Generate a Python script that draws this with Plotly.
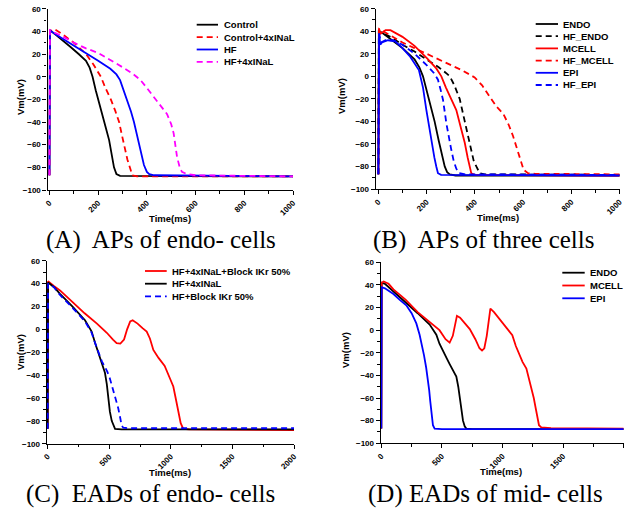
import plotly.graph_objects as go

# ---------------- data ----------------
# Panel A: APs of endo- cells
a_names = ["Control", "Control+4xINaL", "HF", "HF+4xINaL"]
a_ctrl_t = [0, 2, 20, 50, 88, 120, 150, 165, 177, 190, 211, 230, 245, 258, 265, 275, 290, 1000]
a_ctrl_v = [-87, 41, 38, 33, 26, 20, 14, 8, 0, -12, -30, -44, -56, -70, -80, -86, -87.5, -88]
a_ctrl4_t = [0, 3, 20, 50, 100, 150, 180, 200, 211, 230, 252, 270, 286, 298, 306, 320, 333, 340, 360, 1000]
a_ctrl4_v = [-87, 40, 42, 38, 30, 20, 11, 4, 0, -10, -20, -30, -40, -52, -60, -73, -82, -87, -88, -88]
a_hf_t = [0, 2, 20, 50, 100, 150, 200, 250, 275, 290, 305, 320, 335, 347, 357, 367, 378, 388, 400, 410, 430, 1000]
a_hf_v = [-87, 41, 38, 34, 28, 21, 14, 7, 2, -3, -12, -21, -31, -40, -50, -60, -70, -78, -84, -86, -87, -88]
a_hf4_t = [0, 2, 20, 50, 100, 150, 200, 250, 299, 340, 374, 400, 430, 460, 483, 500, 510, 524, 535, 544, 565, 600, 1000]
a_hf4_v = [-87, 41, 39, 36, 30, 25, 21, 15, 8.5, 3, -3, -10, -18, -27, -33, -42, -50, -71, -80, -84, -86, -87, -88]

# Panel B: APs of three cells
b_names = ["ENDO", "HF_ENDO", "MCELL", "HF_MCELL", "EPI", "HF_EPI"]
b_endo_t = [0, 2, 20, 50, 100, 150, 170, 185, 200, 215, 233, 250, 265, 275, 285, 296, 320, 1000]
b_endo_v = [-87, 40, 38, 33, 25, 15, 8, 0, -12, -24, -40, -57, -72, -80, -85, -87, -88, -88]
b_hfendo_t = [0, 2, 20, 50, 100, 150, 200, 250, 280, 296, 315, 337, 358, 378, 395, 406, 420, 440, 1000]
b_hfendo_v = [-87, 40, 38, 35, 28, 22, 15, 8, 3, 0, -8, -20, -40, -60, -75, -80, -86, -87, -87.5]
b_mcell_t = [0, 3, 10, 30, 50, 100, 150, 202, 240, 261, 280, 300, 323, 340, 358, 370, 378, 385, 400, 1000]
b_mcell_v = [-87, 42, 38, 41, 41, 35, 27, 16, 7, 0, -10, -20, -30, -44, -59, -72, -80, -86, -87.5, -88]
b_hfmcell_t = [0, 3, 20, 50, 100, 150, 200, 254, 300, 350, 399, 430, 461, 490, 517, 540, 558, 572, 586, 595, 602, 620, 650, 1000]
b_hfmcell_v = [-87, 42, 40, 36, 30, 25, 20, 14.5, 10, 5, -1, -8, -18, -27, -33, -43, -53, -62, -71, -78, -83, -86, -86.5, -87]
b_epi_t = [0, 3, 8, 15, 40, 70, 100, 130, 168, 185, 199, 210, 220, 232, 240, 247, 260, 1000]
b_epi_v = [-87, 38, 28, 30, 32, 31, 25, 18, 5.6, -10, -30, -45, -59, -72, -80, -86, -87.5, -88]
b_hfepi_t = [0, 3, 10, 30, 60, 100, 150, 200, 230, 247, 258, 268, 282, 292, 302, 312, 323, 335, 360, 1000]
b_hfepi_v = [-87, 38, 30, 32, 32, 28, 20, 10, 3, -3, -12, -21, -42, -55, -65, -75, -82, -86, -87, -87.5]

# Panel C: EADs of endo- cells
c_names = ["HF+4xINaL+Block IKr 50%", "HF+4xINaL", "HF+Block IKr 50%"]
c_red_t = [0, 3, 50, 100, 200, 300, 400, 480, 530, 560, 590, 620, 645, 670, 690, 730, 770, 804, 830, 858, 900, 950, 993, 1020, 1039, 1060, 1080, 1101, 1150, 2000]
c_red_v = [-87, 42, 38, 34, 24, 14, 5, -3, -9, -12, -12.5, -9, 0, 7, 8, 5, 1, -2, -8, -18, -25, -32, -43, -50, -60, -72, -82, -87, -87.5, -88]
c_blk_t = [0, 3, 50, 100, 200, 303, 330, 357, 385, 411, 440, 465, 480, 492, 505, 520, 535, 547, 600, 2000]
c_blk_v = [-87, 41, 37, 31, 20, 8, 3, -2, -12, -20, -30, -38, -48, -60, -72, -80, -85, -87, -87.5, -87.5]
c_blu_t = [0, 3, 50, 100, 200, 303, 330, 357, 385, 411, 440, 465, 484, 505, 530, 550, 573, 590, 600, 614, 650, 2000]
c_blu_v = [-87, 40, 37, 30, 19, 7, 2, -3, -12, -20, -28, -33, -37, -43, -52, -60, -69, -78, -84, -86, -86.5, -86.5]

# Panel D: EADs of mid- cells
d_names = ["ENDO", "MCELL", "EPI"]
d_endo_t = [0, 3, 30, 99, 200, 300, 399, 430, 454, 480, 509, 540, 564, 590, 619, 635, 646, 660, 674, 688, 701, 750, 2000]
d_endo_v = [-87, 42, 41, 34.5, 25, 15, 5, 0, -4, -12, -19, -25, -30, -35, -41, -50, -60, -72, -80, -85, -87, -87.5, -87.5]
d_mcell_t = [0, 3, 19, 60, 100, 200, 300, 400, 480, 530, 564, 590, 610, 624, 650, 690, 730, 776, 810, 831, 850, 870, 885, 900, 930, 960, 996, 1040, 1081, 1110, 1133, 1165, 1197, 1220, 1243, 1258, 1274, 1290, 1301, 1320, 1400, 2000]
d_mcell_v = [-87, 42, 43, 41, 36, 27, 16, 7, 0, -8, -11, -5, 6, 12.7, 11, 6, 1, -8, -16, -18, -16, -5, 8, 19, 16, 12, 7.4, 2, -4.4, -14, -20, -28, -34, -44, -52, -60, -69, -78, -84, -86, -86.5, -87]
d_epi_t = [0, 3, 30, 60, 100, 150, 206, 250, 289, 316, 335, 352, 370, 385, 395, 404, 415, 426, 440, 500, 2000]
d_epi_v = [-87, 38, 37, 35, 32, 27, 22, 15, 6, -4, -13, -22, -33, -43, -53, -63, -75, -84, -87, -87.5, -87.5]

y_ticks = [-100, -80, -60, -40, -20, 0, 20, 40, 60]
captions = ["(A)  APs of endo- cells", "(B)  APs of three cells",
            "(C)  EADs of endo- cells", "(D) EADs of mid- cells"]

# ---------------- styling / layout ----------------
W, H = 626, 510
def fx(px): return px / W
def fy(py): return 1 - py / H

BLACK, RED, BLUE, MAG = "#000000", "#ff0000", "#0000ff", "#ff00ff"
DASH = "6px,4px"
LW = 1.8
SANS = "Liberation Sans, Arial, sans-serif"
SERIF = "Liberation Serif, Times New Roman, serif"

panels = [
    dict(ax="", x=(47.5, 293), y=(8.7, 190), xr=(-8, 1000), xt=[0, 200, 400, 600, 800, 1000], xm=100,
         series=[(a_ctrl_t, a_ctrl_v, BLACK, "solid"), (a_ctrl4_t, a_ctrl4_v, RED, DASH),
                 (a_hf_t, a_hf_v, BLUE, "solid"), (a_hf4_t, a_hf4_v, MAG, DASH)],
         names=a_names, leg=(196.7, 218, 221.7, 24.7, 12.4),
         ytitle=(20, 97), xtitle=(170, 218), cap=(161, 240)),
    dict(ax="2", x=(375.7, 619.7), y=(8.7, 189), xr=(-11, 1000), xt=[0, 200, 400, 600, 800, 1000], xm=100,
         series=[(b_endo_t, b_endo_v, BLACK, "solid"), (b_hfendo_t, b_hfendo_v, BLACK, DASH),
                 (b_mcell_t, b_mcell_v, RED, "solid"), (b_hfmcell_t, b_hfmcell_v, RED, DASH),
                 (b_epi_t, b_epi_v, BLUE, "solid"), (b_hfepi_t, b_hfepi_v, BLUE, DASH)],
         names=b_names, leg=(535.7, 558, 561.3, 24, 12.2),
         ytitle=(341, 96), xtitle=(498, 217), cap=(483, 240)),
    dict(ax="3", x=(46.7, 294), y=(260.7, 443.7), xr=(-8, 2000), xt=[0, 500, 1000, 1500, 2000], xm=250,
         series=[(c_red_t, c_red_v, RED, "solid"), (c_blk_t, c_blk_v, BLACK, "solid"),
                 (c_blu_t, c_blu_v, BLUE, DASH)],
         names=c_names, leg=(145, 166.7, 170, 271, 12.7),
         ytitle=(20, 352), xtitle=(170, 472), cap=(150, 494)),
    dict(ax="4", x=(380.7, 623.7), y=(262.3, 443.3), xr=(-5, 2000), xt=[0, 500, 1000, 1500, 2000], xm=250,
         series=[(d_endo_t, d_endo_v, BLACK, "solid"), (d_mcell_t, d_mcell_v, RED, "solid"),
                 (d_epi_t, d_epi_v, BLUE, "solid")],
         names=d_names, leg=(562.3, 584.7, 588, 272.7, 12.8),
         ytitle=(345, 350), xtitle=(501, 471), cap=(485, 494)),
]

fig = go.Figure()
annotations = []
shapes = []
layout = {}

for p in panels:
    xa, ya = "x" + p["ax"], "y" + p["ax"]
    for (t, v, col, dash) in p["series"]:
        fig.add_trace(go.Scatter(x=t, y=v, mode="lines", xaxis=xa, yaxis=ya,
                                 line=dict(color=col, width=LW, dash=dash),
                                 showlegend=False, hoverinfo="skip"))
    common = dict(showline=True, linecolor="black", linewidth=1.2, showgrid=False, zeroline=False,
                  automargin=False, ticks="outside", ticklen=4, tickwidth=1, tickcolor="black",
                  tickfont=dict(family=SANS, size=8, color="black", weight="bold"))
    layout["xaxis" + p["ax"]] = dict(common, domain=[fx(p["x"][0]), fx(p["x"][1])], range=list(p["xr"]),
                                     anchor=ya, tickvals=p["xt"], tickangle=-45,
                                     minor=dict(dtick=p["xm"], tick0=0, ticks="outside", ticklen=2.5,
                                                tickcolor="black", tickwidth=1))
    layout["yaxis" + p["ax"]] = dict(common, domain=[fy(p["y"][1]), fy(p["y"][0])], range=[-100, 60],
                                     anchor=xa, tickvals=y_ticks,
                                     minor=dict(dtick=10, tick0=0, ticks="outside", ticklen=2.5,
                                                tickcolor="black", tickwidth=1))
    # axis titles
    annotations.append(dict(text="Vm(mV)", x=fx(p["ytitle"][0]), y=fy(p["ytitle"][1]), xref="paper",
                            yref="paper", textangle=-90, showarrow=False, xanchor="center", yanchor="middle",
                            font=dict(family=SANS, size=9.5, color="black", weight="bold")))
    annotations.append(dict(text="Time(ms)", x=fx(p["xtitle"][0]), y=fy(p["xtitle"][1]), xref="paper",
                            yref="paper", showarrow=False, xanchor="center", yanchor="middle",
                            font=dict(family=SANS, size=9.5, color="black", weight="bold")))
    # legend rows
    lx0, lx1, tx, ly0, dy = p["leg"]
    for i, (name, s) in enumerate(zip(p["names"], p["series"])):
        yy = ly0 + i * dy
        shapes.append(dict(type="line", xref="paper", yref="paper", x0=fx(lx0), x1=fx(lx1),
                           y0=fy(yy), y1=fy(yy), line=dict(color=s[2], width=LW, dash=s[3])))
        annotations.append(dict(text=name, x=fx(tx), y=fy(yy), xref="paper", yref="paper",
                                showarrow=False, xanchor="left", yanchor="middle",
                                font=dict(family=SANS, size=9.5, color="black", weight="bold")))

for p, cap in zip(panels, captions):
    annotations.append(dict(text=cap, x=fx(p["cap"][0]), y=fy(p["cap"][1]), xref="paper", yref="paper",
                            showarrow=False, xanchor="center", yanchor="middle",
                            font=dict(family=SERIF, size=25, color="black")))

fig.update_layout(width=W, height=H, margin=dict(l=0, r=0, t=0, b=0, autoexpand=False),
                  paper_bgcolor="white", plot_bgcolor="white", showlegend=False,
                  annotations=annotations, shapes=shapes, **layout)

fig.write_html("out.html", config={"displayModeBar": False},
               post_script="document.body.style.margin='0';document.body.style.overflow='hidden';")
